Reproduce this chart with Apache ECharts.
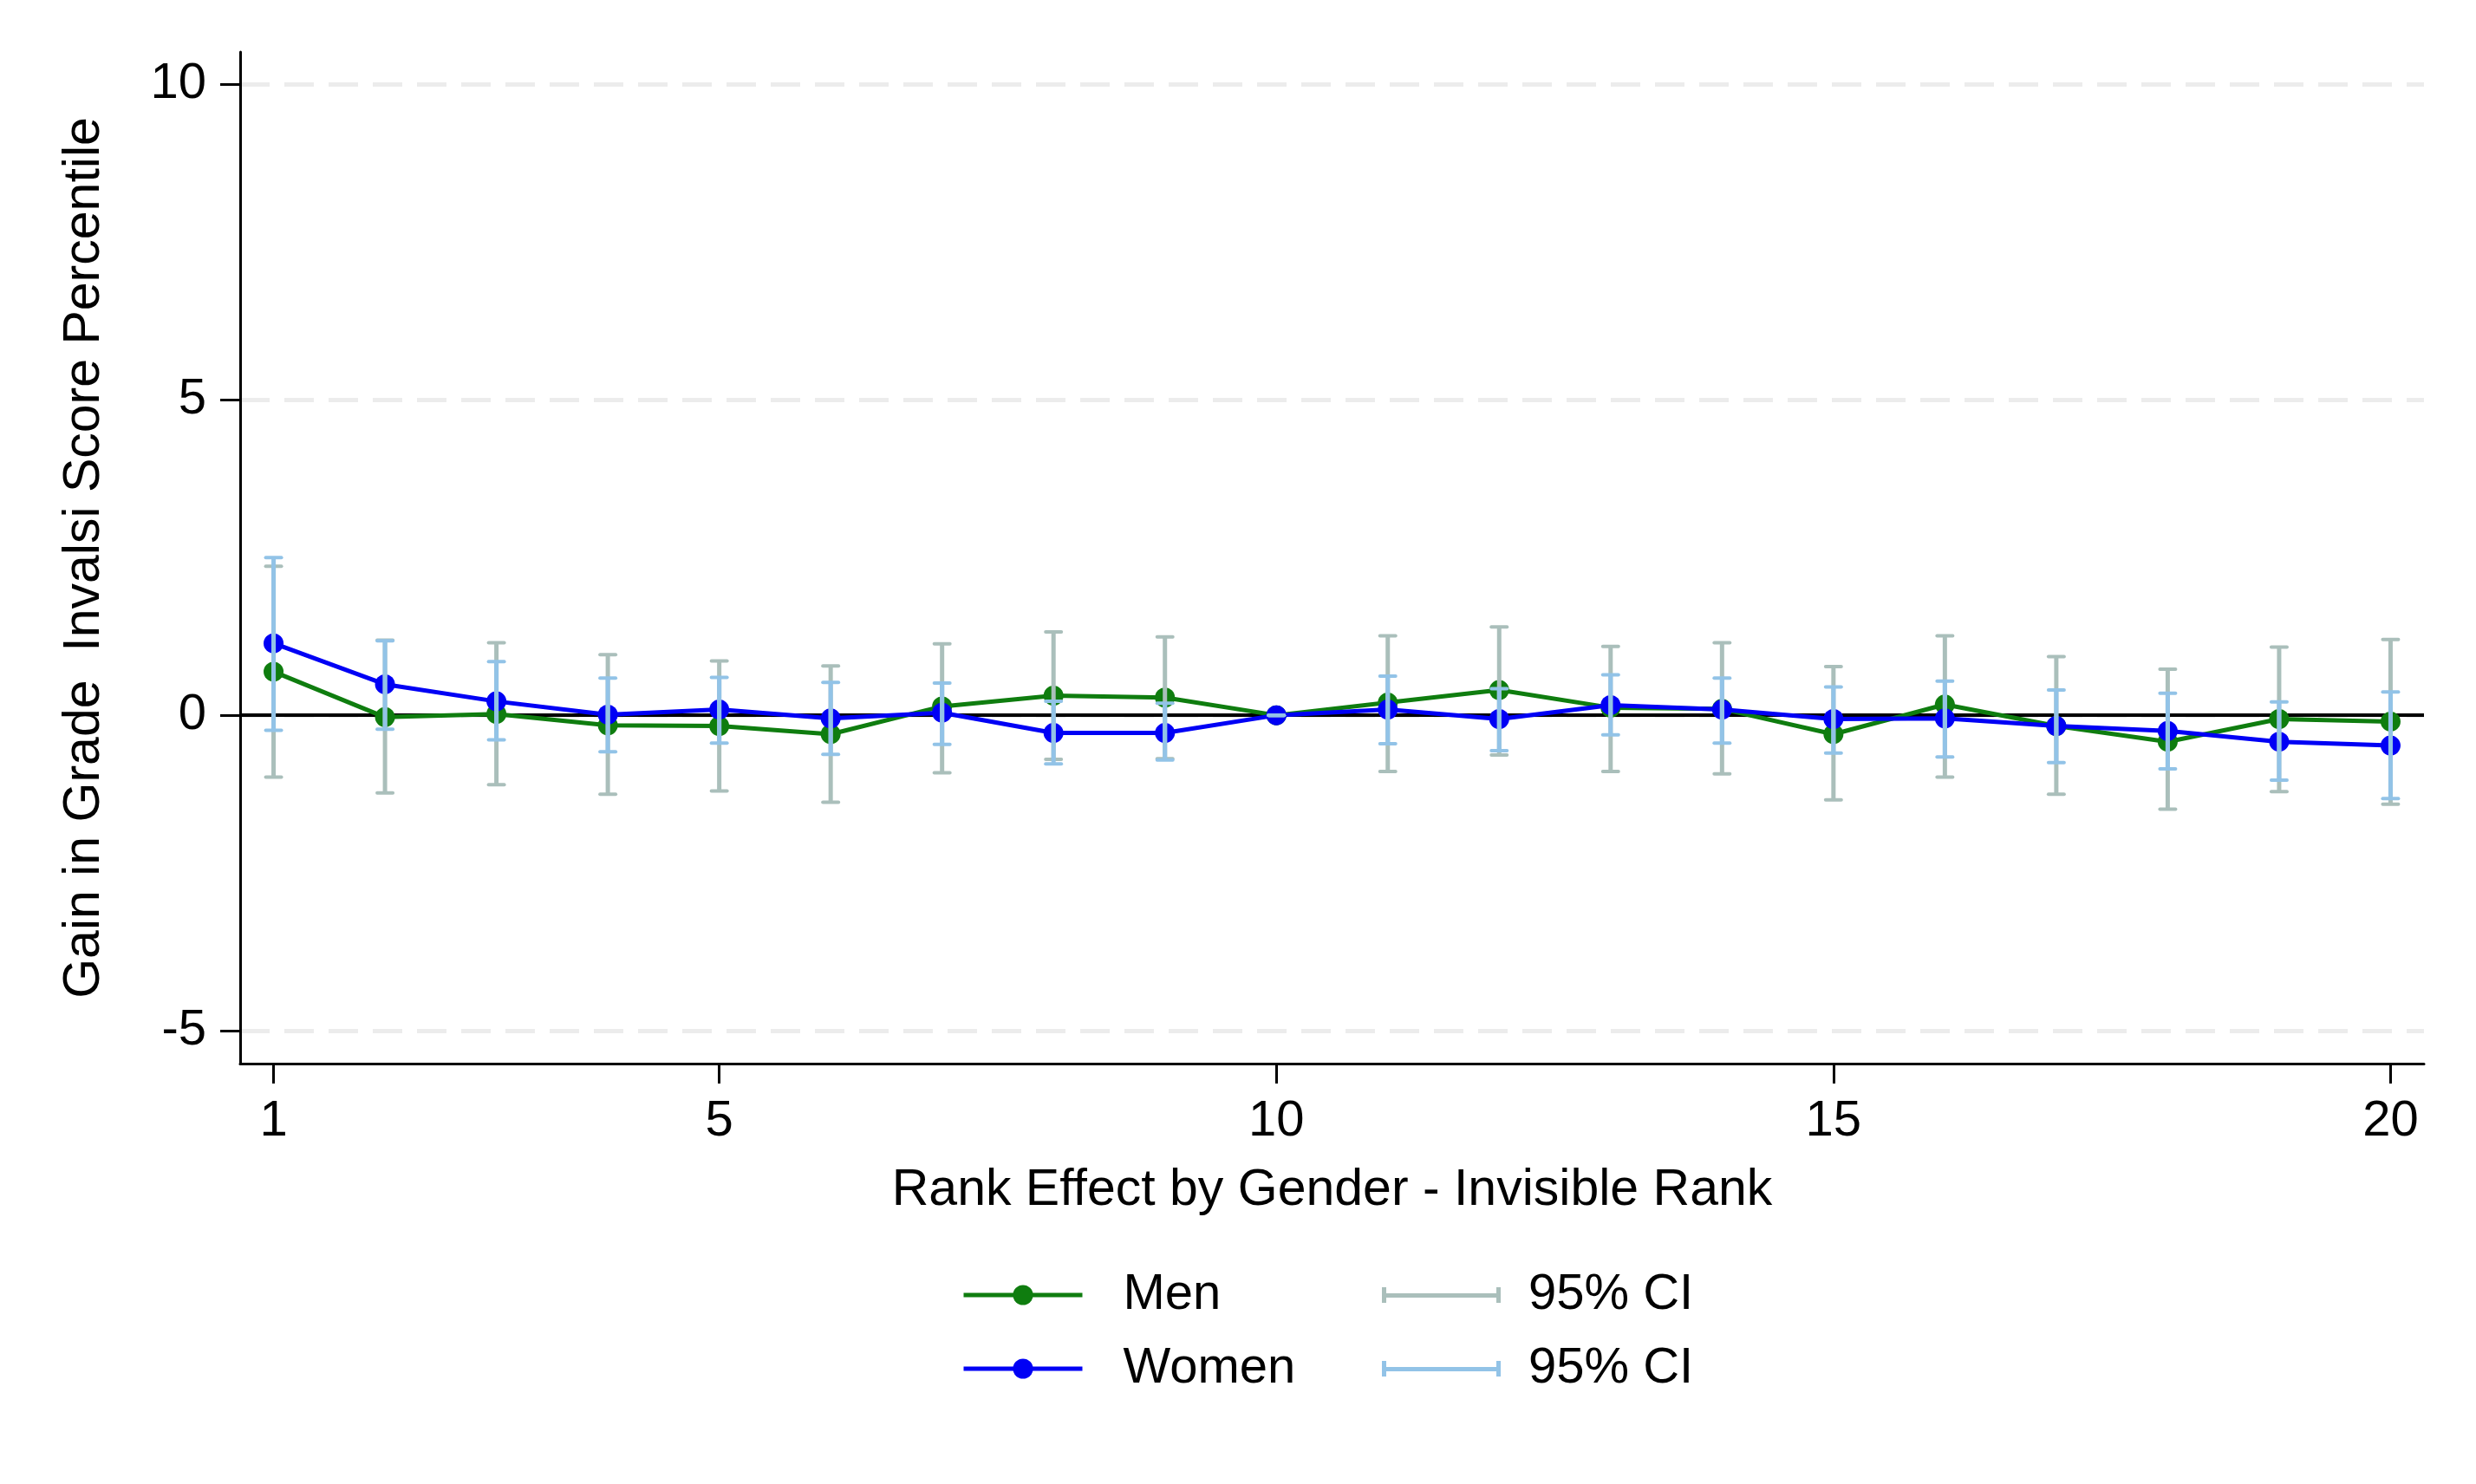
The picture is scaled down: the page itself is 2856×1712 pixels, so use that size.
<!DOCTYPE html>
<html>
<head>
<meta charset="utf-8">
<script src="https://cdn.jsdelivr.net/npm/echarts@6/dist/echarts.min.js"></script>
<style>
  html, body { margin: 0; padding: 0; background: #ffffff; }
  #chart { width: 2856px; height: 1712px; }
</style>
</head>
<body>
<div id="chart"></div>
<script>
// ---- Data ----
const ranks = [1, 2, 3, 4, 5, 6, 7, 8, 9, 10, 11, 12, 13, 14, 15, 16, 17, 18, 19, 20];

const menValues   = [0.69, -0.03, 0.02, -0.16, -0.17, -0.30, 0.14, 0.31, 0.28, 0, 0.20, 0.40, 0.12, 0.10, -0.30, 0.17, -0.17, -0.42, -0.06, -0.10];
const menCILow    = [-0.98, -1.23, -1.10, -1.25, -1.20, -1.38, -0.91, -0.70, -0.69, 0, -0.89, -0.63, -0.89, -0.93, -1.34, -0.98, -1.25, -1.49, -1.21, -1.41];
const menCIHigh   = [2.36, 1.19, 1.15, 0.96, 0.86, 0.78, 1.13, 1.32, 1.24, 0, 1.26, 1.40, 1.09, 1.15, 0.77, 1.26, 0.93, 0.73, 1.08, 1.20];

const womenValues = [1.14, 0.49, 0.22, 0.01, 0.09, -0.05, 0.04, -0.28, -0.28, 0, 0.09, -0.06, 0.16, 0.09, -0.06, -0.05, -0.17, -0.25, -0.42, -0.48];
const womenCILow  = [-0.24, -0.22, -0.39, -0.58, -0.44, -0.62, -0.46, -0.77, -0.71, 0, -0.45, -0.56, -0.31, -0.44, -0.60, -0.66, -0.75, -0.85, -1.03, -1.32];
const womenCIHigh = [2.50, 1.18, 0.85, 0.59, 0.60, 0.52, 0.51, 0.22, 0.19, 0, 0.62, 0.42, 0.64, 0.59, 0.45, 0.54, 0.40, 0.35, 0.21, 0.37];

const xTickValues = [1, 5, 10, 15, 20];
const yTickValues = [-5, 0, 5, 10];

const xAxisTitle = 'Rank Effect by Gender - Invisible Rank';
const yAxisTitle = 'Gain in Grade  Invalsi Score Percentile';
const seriesNames = ['Men', 'Women'];
const ciLabel = '95% CI';

// ---- Styles ----
const FONT = '"Liberation Sans", Arial, Helvetica, sans-serif';
const GREEN = '#0f7d0f';
const BLUE = '#0000f5';
const CI_GRAY = '#aabfbb';
const CI_BLUE = '#92c3e7';

function pointsOf(vals) { return ranks.map((r, i) => [r, vals[i]]); }
function ciOf(lo, hi) { return ranks.map((r, i) => [r, lo[i], hi[i]]); }

function renderCI(params, api) {
  const x = api.value(0);
  const lo = api.coord([x, api.value(1)]);
  const hi = api.coord([x, api.value(2)]);
  const color = api.visual('color');
  const half = 9;
  const st = { stroke: color, lineWidth: 4, lineCap: 'round' };
  return {
    type: 'group',
    children: [
      { type: 'line', shape: { x1: lo[0], y1: lo[1], x2: hi[0], y2: hi[1] }, style: { stroke: color, lineWidth: 5 } },
      { type: 'line', shape: { x1: hi[0] - half, y1: hi[1], x2: hi[0] + half, y2: hi[1] }, style: st },
      { type: 'line', shape: { x1: lo[0] - half, y1: lo[1], x2: lo[0] + half, y2: lo[1] }, style: st }
    ]
  };
}

const ciIcon = 'path://M0,5 h5 v18 h-5 z M5,12 h127 v5 h-127 z M132,5 h5 v18 h-5 z';

const chart = echarts.init(document.getElementById('chart'), null, { renderer: 'canvas' });

const option = {
  animation: false,
  backgroundColor: '#ffffff',
  textStyle: { fontFamily: FONT },
  grid: { left: 277, right: 60, top: 60, bottom: 485, containLabel: false },
  xAxis: {
    type: 'value',
    min: 0.70,
    max: 20.30,
    name: xAxisTitle,
    nameLocation: 'middle',
    nameGap: 117,
    nameTextStyle: { fontSize: 59, color: '#000', fontFamily: FONT },
    axisLine: { show: true, onZero: false, lineStyle: { color: '#000', width: 3 } },
    axisTick: { show: true, length: 23, customValues: xTickValues, lineStyle: { color: '#000', width: 3 } },
    axisLabel: { show: true, customValues: xTickValues, fontSize: 58, color: '#000', margin: 38, fontFamily: FONT },
    splitLine: { show: false }
  },
  yAxis: {
    type: 'value',
    min: -5.52,
    max: 10.51,
    name: yAxisTitle,
    nameLocation: 'middle',
    nameGap: 150,
    nameTextStyle: { fontSize: 59, color: '#000', fontFamily: FONT },
    axisLine: { show: true, lineStyle: { color: '#000', width: 3 } },
    axisTick: { show: true, length: 23, customValues: yTickValues, lineStyle: { color: '#000', width: 3 } },
    axisLabel: { show: true, customValues: yTickValues, fontSize: 58, color: '#000', margin: 39, fontFamily: FONT },
    splitLine: { show: true, lineStyle: { color: '#ececec', width: 5, type: [34, 17] } }
  },
  legend: [
    {
      data: seriesNames,
      orient: 'vertical',
      left: 1104,
      top: 1460,
      itemWidth: 137,
      itemHeight: 29,
      itemGap: 27,
      selectedMode: false,
      lineStyle: { width: 5 },
      textStyle: { fontSize: 58, color: '#000', fontFamily: FONT, padding: [0, 0, 0, 42] }
    },
    {
      data: [{ name: 'ciMen', icon: ciIcon }, { name: 'ciWomen', icon: ciIcon }],
      orient: 'vertical',
      left: 1589,
      top: 1460,
      itemWidth: 137,
      itemHeight: 29,
      itemGap: 27,
      selectedMode: false,
      formatter: function () { return ciLabel; },
      textStyle: { fontSize: 58, color: '#000', fontFamily: FONT, padding: [0, 0, 0, 27] }
    }
  ],
  series: [
    {
      name: 'zero',
      type: 'line',
      data: [],
      z: 1,
      silent: true,
      markLine: {
        z: 1,
        silent: true,
        symbol: 'none',
        label: { show: false },
        lineStyle: { color: '#000', width: 4, type: 'solid' },
        data: [{ yAxis: 0 }]
      }
    },
    {
      name: 'Men',
      type: 'line',
      data: pointsOf(menValues),
      z: 2,
      symbol: 'circle',
      symbolSize: 23,
      itemStyle: { color: GREEN },
      lineStyle: { color: GREEN, width: 5 }
    },
    {
      name: 'Women',
      type: 'line',
      data: pointsOf(womenValues),
      z: 3,
      symbol: 'circle',
      symbolSize: 23,
      itemStyle: { color: BLUE },
      lineStyle: { color: BLUE, width: 5 }
    },
    {
      name: 'ciMen',
      type: 'custom',
      data: ciOf(menCILow, menCIHigh),
      z: 4,
      itemStyle: { color: CI_GRAY },
      renderItem: renderCI,
      encode: { x: 0, y: [1, 2] }
    },
    {
      name: 'ciWomen',
      type: 'custom',
      data: ciOf(womenCILow, womenCIHigh),
      z: 5,
      itemStyle: { color: CI_BLUE },
      renderItem: renderCI,
      encode: { x: 0, y: [1, 2] }
    }
  ]
};

chart.setOption(option);
</script>
</body>
</html>
